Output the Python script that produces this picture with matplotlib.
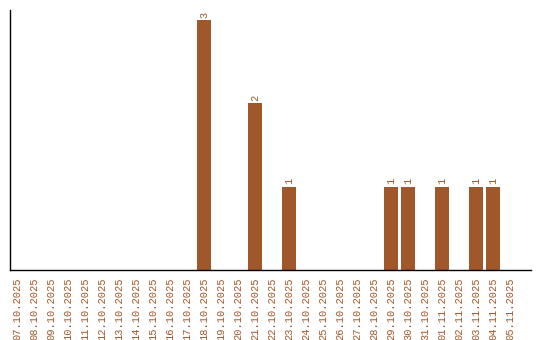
import matplotlib
matplotlib.use("Agg")
import matplotlib.pyplot as plt
import pandas as pd

dates = pd.date_range("2025-10-07", "2025-11-05", freq="D")
labels = [d.strftime("%d.%m.%Y") for d in dates]
counts_map = {"18.10.2025": 3, "21.10.2025": 2, "23.10.2025": 1, "29.10.2025": 1,
              "30.10.2025": 1, "01.11.2025": 1, "03.11.2025": 1, "04.11.2025": 1}
values = [counts_map.get(l, 0) for l in labels]

color = "#A0572A"
font = "Liberation Mono"
fig = plt.figure(figsize=(5.4, 3.4), dpi=100)
ax = fig.add_axes([10/540, 70/340, 521/540, 260/340])
x = list(range(len(labels)))
ax.bar(x, values, width=0.82, color=color)
for xi, v in zip(x, values):
    if v > 0:
        ax.text(xi, v + 0.03, str(v), rotation=90, ha="center", va="bottom",
                color=color, family=font, fontsize=7.5)
ax.set_xlim(-0.41, 30.24)
ax.set_ylim(0, 3.12)
ax.set_xticks(x)
ax.set_xticklabels(labels, rotation=90, family=font, fontsize=7.5, color=color)
ax.tick_params(axis="x", length=0, pad=5.5)
ax.set_yticks([])
for s in ["top", "right"]:
    ax.spines[s].set_visible(False)
ax.spines["left"].set_linewidth(1)
ax.spines["bottom"].set_linewidth(1)
fig.savefig("out.png", dpi=100)
